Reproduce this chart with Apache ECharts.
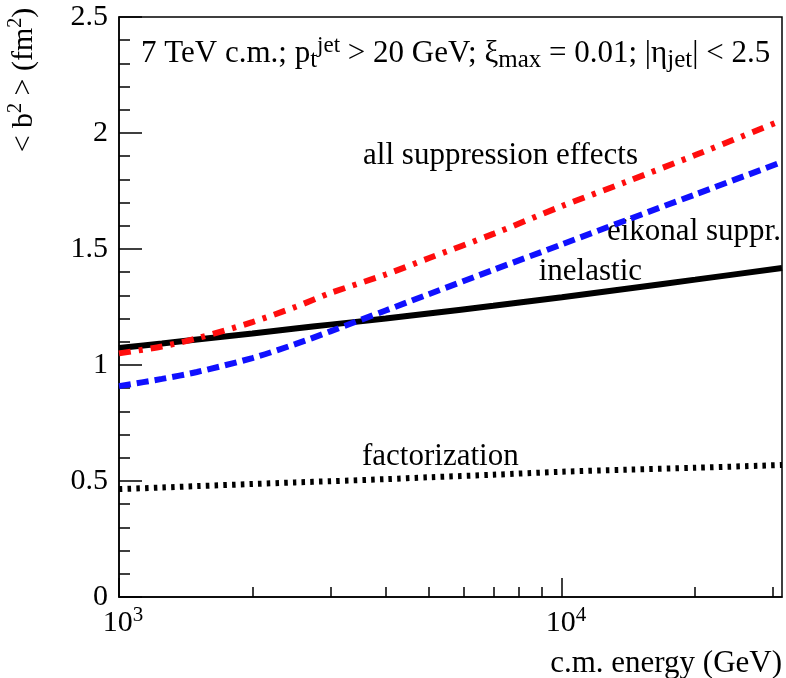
<!DOCTYPE html>
<html>
<head>
<meta charset="UTF-8">
<title>&lt;b2&gt; vs c.m. energy</title>
<script src="https://cdn.jsdelivr.net/npm/echarts@6/dist/echarts.min.js"></script>
<style>
  html, body { margin: 0; padding: 0; background: #fff; }
  #chart { width: 786px; height: 678px; }
</style>
</head>
<body>
<div id="chart"></div>
<script>
// c.m. energy (GeV)
const energy = [1000, 1250, 1500, 2000, 2500, 3000, 4000, 5000, 7000, 10000, 14000, 20000, 31400];
// <b^2> (fm^2) for each curve
const inelastic     = [1.073, 1.093, 1.110, 1.136, 1.157, 1.174, 1.200, 1.222, 1.255, 1.292, 1.329, 1.368, 1.418];
const allSuppr      = [1.050, 1.080, 1.115, 1.185, 1.250, 1.310, 1.390, 1.460, 1.565, 1.685, 1.790, 1.905, 2.055];
const eikonal       = [0.909, 0.940, 0.970, 1.030, 1.090, 1.145, 1.235, 1.305, 1.410, 1.520, 1.625, 1.735, 1.875];
const factorization = [0.465, 0.472, 0.478, 0.487, 0.494, 0.499, 0.508, 0.516, 0.527, 0.540, 0.549, 0.557, 0.569];

const xMajorTicks = [1000, 10000];
const xMinorTicks = [2000, 3000, 4000, 5000, 6000, 7000, 8000, 9000, 20000, 30000];

const FONT = '"Liberation Serif", "Times New Roman", serif';

const chart = echarts.init(document.getElementById('chart'));

function pairs(ys) {
    return energy.map((e, i) => [e, ys[i]]);
}

function curve(name, ys, color, type) {
    return {
        name: name,
        type: 'line',
        xAxisIndex: 0,
        yAxisIndex: 0,
        data: pairs(ys),
        showSymbol: false,
        symbol: 'none',
        smooth: 0.3,
        silent: true,
        lineStyle: { color: color, width: 6, type: type, cap: 'butt' }
    };
}

const gridBox = { left: 119, right: 4, top: 17, bottom: 81 };

const option = {
    animation: false,
    grid: [
        Object.assign({ show: true, borderColor: '#000', borderWidth: 1.5, backgroundColor: 'transparent' }, gridBox),
        Object.assign({ show: false }, gridBox)
    ],
    xAxis: [
        {
            type: 'log',
            gridIndex: 0,
            min: 1000,
            max: 31400,
            logBase: 10,
            axisLine: { show: true, onZero: false, lineStyle: { color: '#000', width: 1.5 } },
            axisTick: { show: true, inside: true, length: 19, customValues: xMajorTicks, lineStyle: { color: '#000', width: 1.5 } },
            axisLabel: {
                customValues: xMajorTicks,
                margin: 8,
                color: '#000',
                padding: [0, 0, 0, 8],
                formatter: v => '{b|10}{s|' + Math.round(Math.log10(v)) + '}',
                rich: {
                    b: { fontFamily: FONT, fontSize: 30, color: '#000' },
                    s: { fontFamily: FONT, fontSize: 21, color: '#000', padding: [0, 0, 16, 0] }
                }
            },
            splitLine: { show: false }
        },
        {
            type: 'log',
            gridIndex: 1,
            min: 1000,
            max: 31400,
            logBase: 10,
            axisLine: { show: false },
            axisTick: { show: true, inside: true, length: 10, customValues: xMinorTicks, lineStyle: { color: '#000', width: 1.5 } },
            axisLabel: { show: false },
            splitLine: { show: false }
        }
    ],
    yAxis: [
        {
            type: 'value',
            gridIndex: 0,
            min: 0,
            max: 2.5,
            interval: 0.5,
            axisLine: { show: true, lineStyle: { color: '#000', width: 1.5 } },
            axisTick: { show: true, inside: true, length: 23, lineStyle: { color: '#000', width: 1.5 } },
            minorTick: { show: true, splitNumber: 5, length: 11, lineStyle: { color: '#000', width: 1.5 } },
            axisLabel: { margin: 11, color: '#000', fontFamily: FONT, fontSize: 30 },
            splitLine: { show: false }
        },
        { type: 'value', gridIndex: 1, min: 0, max: 1, show: false }
    ],
    series: [
        curve('inelastic', inelastic, '#000', 'solid'),
        curve('factorization', factorization, '#000', [3.5, 5.2]),
        curve('eikonal suppr.', eikonal, '#1010ff', [12, 6]),
        curve('all suppression effects', allSuppr, '#ff0d0d', [12, 8, 4, 8])
    ],
    graphic: [
        {
            type: 'text', x: 141, y: 54,
            style: {
                text: '7 TeV c.m.; p{sb|t}{sp|jet} > 20 GeV; \u03be{sb|max} = 0.01; |\u03b7{sb|jet}| < 2.5',
                fontFamily: FONT, fontSize: 31, fill: '#000',
                align: 'left', verticalAlign: 'middle',
                rich: {
                    sb: { fontFamily: FONT, fontSize: 25, fill: '#000', padding: [13, 0, 0, 0] },
                    sp: { fontFamily: FONT, fontSize: 23, fill: '#000', padding: [0, 0, 16, 0] }
                }
            }
        },
        {
            type: 'text', x: 638, y: 156,
            style: { text: 'all suppression effects', fontFamily: FONT, fontSize: 31, fill: '#000', align: 'right', verticalAlign: 'middle' }
        },
        {
            type: 'text', x: 607, y: 232,
            style: { text: 'eikonal suppr.', fontFamily: FONT, fontSize: 31, fill: '#000', align: 'left', verticalAlign: 'middle' }
        },
        {
            type: 'text', x: 642, y: 272,
            style: { text: 'inelastic', fontFamily: FONT, fontSize: 31, fill: '#000', align: 'right', verticalAlign: 'middle' }
        },
        {
            type: 'text', x: 362, y: 457,
            style: { text: 'factorization', fontFamily: FONT, fontSize: 31, fill: '#000', align: 'left', verticalAlign: 'middle' }
        },
        {
            type: 'text', x: 782, y: 664,
            style: { text: 'c.m. energy (GeV)', fontFamily: FONT, fontSize: 31, fill: '#000', align: 'right', verticalAlign: 'middle' }
        },
        {
            type: 'text', x: 24, y: 80, rotation: Math.PI / 2,
            style: {
                text: '< b{sp|2} > (fm{sp|2})',
                fontFamily: FONT, fontSize: 30, fill: '#000',
                align: 'center', verticalAlign: 'middle',
                rich: {
                    sp: { fontFamily: FONT, fontSize: 20, fill: '#000', padding: [0, 0, 16, 0] }
                }
            }
        }
    ]
};

chart.setOption(option);
window.addEventListener('resize', () => chart.resize());
</script>
</body>
</html>
